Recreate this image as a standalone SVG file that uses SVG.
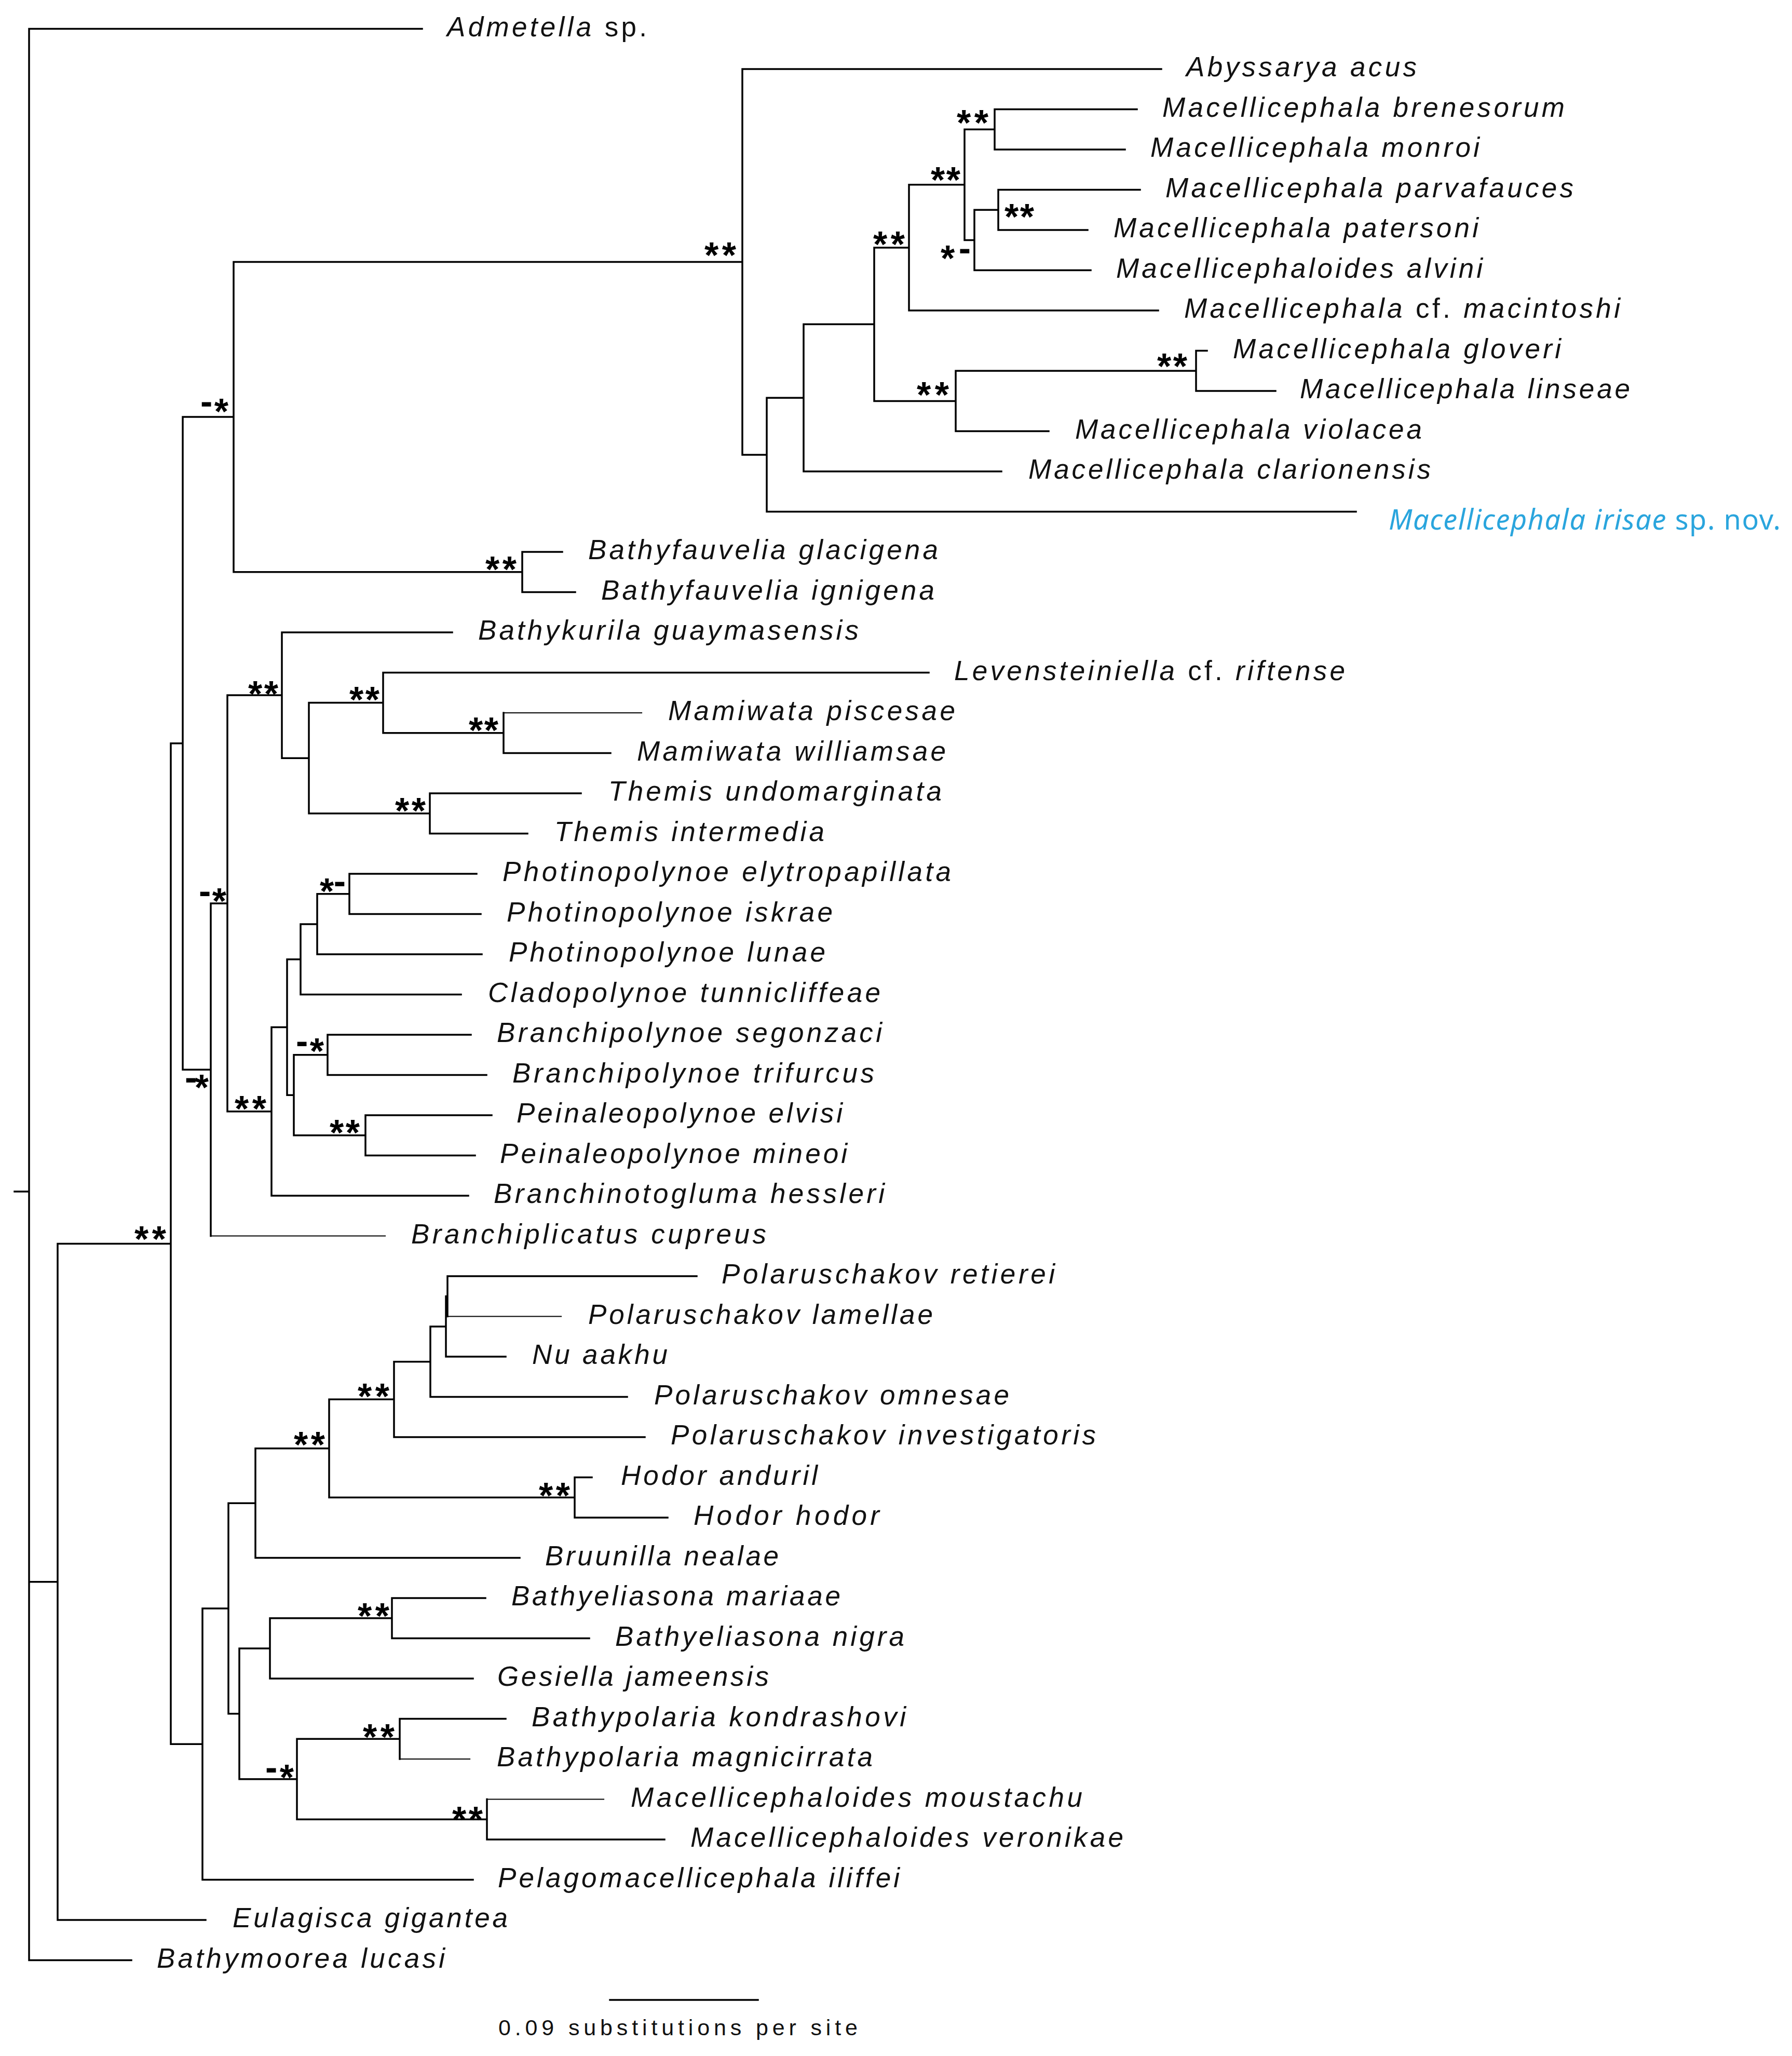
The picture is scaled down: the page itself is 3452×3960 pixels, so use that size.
<svg xmlns="http://www.w3.org/2000/svg" width="3452" height="3960" viewBox="0 0 3452 3960">
<style>
.br{fill:none;stroke:#000;stroke-width:3.5;stroke-linecap:square}
.thin{fill:none;stroke:#000;stroke-width:2.2;stroke-linecap:square}
.tx{font-family:"Liberation Sans",Arial,sans-serif;font-size:53px;font-style:italic;fill:#111}
.up{font-style:normal}
.nov{font-family:"Noto Sans","Open Sans",sans-serif;font-size:54px;fill:#2AA5DD}
.sup{font-family:"Liberation Sans",Arial,sans-serif;font-size:70px;font-weight:bold;fill:#000}
.scale{font-family:"Liberation Sans",Arial,sans-serif;font-size:43px;fill:#111}
</style>
<rect width="3452" height="3960" fill="#fff"/>
<g id="connectors">
<path class="br" d="M56,55.5V3775.5M56,55.5H813M56,3046.7H111M56,3775.5H253M28,2295H56
M111,2395.45V3698M111,3698H396M111,2395.45H329
M329,1431.65V3359.25M329,1431.65H352M329,3359.25H390
M352,803.1V2060.2M352,803.1H450M352,2060.2H406
M450,504.5V1101.75M450,504.5H1430M450,1101.75H1006
M1430,133V875.9M1430,133H2237M1430,875.9H1477
M1477,766.3V985.5M1477,766.3H1548M1477,985.5H2612
M1548,624.6V908M1548,624.6H1684M1548,908H1929
M1684,476.9V772.4M1684,476.9H1751M1684,772.4H1841
M1751,355.8V598M1751,355.8H1858M1751,598H2231
M1858,249.25V462.4M1858,249.25H1916M1858,462.4H1877
M1916,210.5V288M1916,210.5H2190M1916,288H2167
M1877,404.25V520.5M1877,404.25H1923M1877,520.5H2101
M1923,365.5V443M1923,365.5H2196M1923,443H2095
M1841,714.25V830.5M1841,714.25H2304M1841,830.5H2020
M2304,675.5V753M2304,675.5H2325M2304,753H2457
M1006,1063V1140.5M1006,1063H1083M1006,1140.5H1108
M406,1739.9V2380.5M406,1739.9H438
M438,1339.1V2140.75M438,1339.1H543M438,2140.75H523
M543,1218V1460.2M543,1218H871M543,1460.2H595
M595,1353.6V1566.75M595,1353.6H738M595,1566.75H828
M738,1295.5V1411.75M738,1295.5H1789M738,1411.75H970
M970,1373V1450.5M970,1450.5H1176
M828,1528V1605.5M828,1528H1119M828,1605.5H1016
M523,1978.5V2303M523,1978.5H553M523,2303H902
M553,1847.7V2109.25M553,1847.7H579M553,2109.25H566
M579,1779.9V1915.5M579,1779.9H611M579,1915.5H888
M611,1721.75V1838M611,1721.75H673M611,1838H928
M673,1683V1760.5M673,1683H918M673,1760.5H926
M566,2031.75V2186.75M566,2031.75H631M566,2186.75H704
M631,1993V2070.5M631,1993H907M631,2070.5H937
M704,2148V2225.5M704,2148H947M704,2225.5H915
M390,3098V3620.5M390,3098H440M390,3620.5H911
M440,2895.15V3300.8M440,2895.15H492M440,3300.8H461
M492,2789.8V3000.5M492,2789.8H634M492,3000.5H1001
M634,2695.35V2884.25M634,2695.35H759M634,2884.25H1107
M759,2622.7V2768M759,2622.7H829M759,2768H1242
M829,2554.9V2690.5M829,2554.9H859M829,2690.5H1208
M859,2496.75V2613M859,2496.75H862M859,2613H974
M862,2458V2535.5M862,2458H1342
M1107,2845.5V2923M1107,2845.5H1140M1107,2923H1286
M461,3174.9V3426.75M461,3174.9H520M461,3426.75H572
M520,3116.75V3233M520,3116.75H755M520,3233H911
M755,3078V3155.5M755,3078H935M755,3155.5H1135
M572,3349.25V3504.25M572,3349.25H770M572,3504.25H938
M770,3310.5V3388M770,3310.5H974
M938,3465.5V3543M938,3543H1280"/>
<path class="thin" d="M406,2380.5H742M970,1373H1236M862,2535.5H1081M770,3388H905M938,3465.5H1163"/>
</g>
<g id="support">
<text class="sup" x="386" y="817" textLength="54"><tspan dy="-20">-</tspan><tspan dy="20">*</tspan></text>
<text class="sup" x="1357" y="516" textLength="61">**</text>
<text class="sup" x="1682" y="495" textLength="61">**</text>
<text class="sup" x="1793" y="371" textLength="57">**</text>
<text class="sup" x="1843" y="261" textLength="61">**</text>
<text class="sup" x="1935" y="442" textLength="57">**</text>
<text class="sup" x="1812" y="522" textLength="58"><tspan>*</tspan><tspan dy="-20">-</tspan></text>
<text class="sup" x="1766" y="785" textLength="62">**</text>
<text class="sup" x="2229" y="730" textLength="58">**</text>
<text class="sup" x="935" y="1121" textLength="60">**</text>
<text class="sup" x="478" y="1361" textLength="58">**</text>
<text class="sup" x="673" y="1372" textLength="58">**</text>
<text class="sup" x="903" y="1431" textLength="57">**</text>
<text class="sup" x="761" y="1586" textLength="59">**</text>
<text class="sup" x="383" y="1760" textLength="53"><tspan dy="-20">-</tspan><tspan dy="20">*</tspan></text>
<text class="sup" x="616" y="1741" textLength="50"><tspan>*</tspan><tspan dy="-20">-</tspan></text>
<text class="sup" x="570" y="2049" textLength="54"><tspan dy="-20">-</tspan><tspan dy="20">*</tspan></text>
<text class="sup" x="356" y="2119" textLength="46"><tspan dy="-20">-</tspan><tspan dy="20">*</tspan></text>
<text class="sup" x="452" y="2160" textLength="61">**</text>
<text class="sup" x="635" y="2206" textLength="58">**</text>
<text class="sup" x="259" y="2411" textLength="61">**</text>
<text class="sup" x="689" y="2714" textLength="61">**</text>
<text class="sup" x="566" y="2807" textLength="60">**</text>
<text class="sup" x="1038" y="2905" textLength="60">**</text>
<text class="sup" x="689" y="3137" textLength="61">**</text>
<text class="sup" x="699" y="3370" textLength="61">**</text>
<text class="sup" x="511" y="3448" textLength="55"><tspan dy="-20">-</tspan><tspan dy="20">*</tspan></text>
<text class="sup" x="871" y="3529" textLength="59">**</text>
</g>
<g id="leaf-admetella"><text class="tx" x="861" y="69.5" textLength="385">Admetella<tspan class="up"> sp.</tspan></text></g>
<g id="leaf-abyssarya"><text class="tx" x="2285" y="147" textLength="444">Abyssarya acus</text></g>
<g id="leaf-brenesorum"><text class="tx" x="2239" y="224.5" textLength="775">Macellicephala brenesorum</text></g>
<g id="leaf-monroi"><text class="tx" x="2216" y="302" textLength="634">Macellicephala monroi</text></g>
<g id="leaf-parvafauces"><text class="tx" x="2245" y="379.5" textLength="786">Macellicephala parvafauces</text></g>
<g id="leaf-patersoni"><text class="tx" x="2145" y="457" textLength="703">Macellicephala patersoni</text></g>
<g id="leaf-alvini"><text class="tx" x="2150" y="534.5" textLength="706">Macellicephaloides alvini</text></g>
<g id="leaf-macintoshi"><text class="tx" x="2281" y="612" textLength="840">Macellicephala<tspan class="up"> cf. </tspan>macintoshi</text></g>
<g id="leaf-gloveri"><text class="tx" x="2375" y="689.5" textLength="632">Macellicephala gloveri</text></g>
<g id="leaf-linseae"><text class="tx" x="2504" y="767" textLength="636">Macellicephala linseae</text></g>
<g id="leaf-violacea"><text class="tx" x="2071" y="844.5" textLength="668">Macellicephala violacea</text></g>
<g id="leaf-clarionensis"><text class="tx" x="1981" y="922" textLength="775">Macellicephala clarionensis</text></g>
<g id="leaf-irisae"><text class="nov" x="2675" y="1020" textLength="755"><tspan font-style="italic">Macellicephala irisae</tspan> sp. nov.</text></g>
<g id="leaf-glacigena"><text class="tx" x="1133" y="1077" textLength="674">Bathyfauvelia glacigena</text></g>
<g id="leaf-ignigena"><text class="tx" x="1158" y="1154.5" textLength="642">Bathyfauvelia ignigena</text></g>
<g id="leaf-guaymasensis"><text class="tx" x="921" y="1232" textLength="733">Bathykurila guaymasensis</text></g>
<g id="leaf-levensteiniella"><text class="tx" x="1838" y="1309.5" textLength="753">Levensteiniella<tspan class="up"> cf. </tspan>riftense</text></g>
<g id="leaf-piscesae"><text class="tx" x="1287" y="1387" textLength="553">Mamiwata piscesae</text></g>
<g id="leaf-williamsae"><text class="tx" x="1227" y="1464.5" textLength="595">Mamiwata williamsae</text></g>
<g id="leaf-undomarginata"><text class="tx" x="1172" y="1542" textLength="642">Themis undomarginata</text></g>
<g id="leaf-intermedia"><text class="tx" x="1068" y="1619.5" textLength="520">Themis intermedia</text></g>
<g id="leaf-elytropapillata"><text class="tx" x="968" y="1697" textLength="864">Photinopolynoe elytropapillata</text></g>
<g id="leaf-iskrae"><text class="tx" x="976" y="1774.5" textLength="628">Photinopolynoe iskrae</text></g>
<g id="leaf-lunae"><text class="tx" x="980" y="1852" textLength="610">Photinopolynoe lunae</text></g>
<g id="leaf-cladopolynoe"><text class="tx" x="940" y="1929.5" textLength="756">Cladopolynoe tunnicliffeae</text></g>
<g id="leaf-segonzaci"><text class="tx" x="957" y="2007" textLength="742">Branchipolynoe segonzaci</text></g>
<g id="leaf-trifurcus"><text class="tx" x="987" y="2084.5" textLength="697">Branchipolynoe trifurcus</text></g>
<g id="leaf-elvisi"><text class="tx" x="995" y="2162" textLength="628">Peinaleopolynoe elvisi</text></g>
<g id="leaf-mineoi"><text class="tx" x="963" y="2239.5" textLength="669">Peinaleopolynoe mineoi</text></g>
<g id="leaf-hessleri"><text class="tx" x="951" y="2317" textLength="753">Branchinotogluma hessleri</text></g>
<g id="leaf-cupreus"><text class="tx" x="792" y="2394.5" textLength="684">Branchiplicatus cupreus</text></g>
<g id="leaf-retierei"><text class="tx" x="1390" y="2472" textLength="642">Polaruschakov retierei</text></g>
<g id="leaf-lamellae"><text class="tx" x="1133" y="2549.5" textLength="664">Polaruschakov lamellae</text></g>
<g id="leaf-nu"><text class="tx" x="1025" y="2627" textLength="261">Nu aakhu</text></g>
<g id="leaf-omnesae"><text class="tx" x="1260" y="2704.5" textLength="684">Polaruschakov omnesae</text></g>
<g id="leaf-investigatoris"><text class="tx" x="1292" y="2782" textLength="819">Polaruschakov investigatoris</text></g>
<g id="leaf-anduril"><text class="tx" x="1196" y="2859.5" textLength="379">Hodor anduril</text></g>
<g id="leaf-hodor"><text class="tx" x="1336" y="2937" textLength="358">Hodor hodor</text></g>
<g id="leaf-bruunilla"><text class="tx" x="1050" y="3014.5" textLength="450">Bruunilla nealae</text></g>
<g id="leaf-mariaae"><text class="tx" x="985" y="3092" textLength="634">Bathyeliasona mariaae</text></g>
<g id="leaf-nigra"><text class="tx" x="1185" y="3169.5" textLength="557">Bathyeliasona nigra</text></g>
<g id="leaf-gesiella"><text class="tx" x="958" y="3247" textLength="523">Gesiella jameensis</text></g>
<g id="leaf-kondrashovi"><text class="tx" x="1024" y="3324.5" textLength="721">Bathypolaria kondrashovi</text></g>
<g id="leaf-magnicirrata"><text class="tx" x="957" y="3402" textLength="724">Bathypolaria magnicirrata</text></g>
<g id="leaf-moustachu"><text class="tx" x="1215" y="3479.5" textLength="870">Macellicephaloides moustachu</text></g>
<g id="leaf-veronikae"><text class="tx" x="1330" y="3557" textLength="834">Macellicephaloides veronikae</text></g>
<g id="leaf-iliffei"><text class="tx" x="959" y="3634.5" textLength="774">Pelagomacellicephala iliffei</text></g>
<g id="leaf-eulagisca"><text class="tx" x="448" y="3712" textLength="530">Eulagisca gigantea</text></g>
<g id="leaf-bathymoorea"><text class="tx" x="302" y="3789.5" textLength="555">Bathymoorea lucasi</text></g>
<g id="scale-bar">
<path class="br" d="M1175,3852H1460"/>
<text class="scale" x="960" y="3920" textLength="692">0.09 substitutions per site</text>
</g>
</svg>
